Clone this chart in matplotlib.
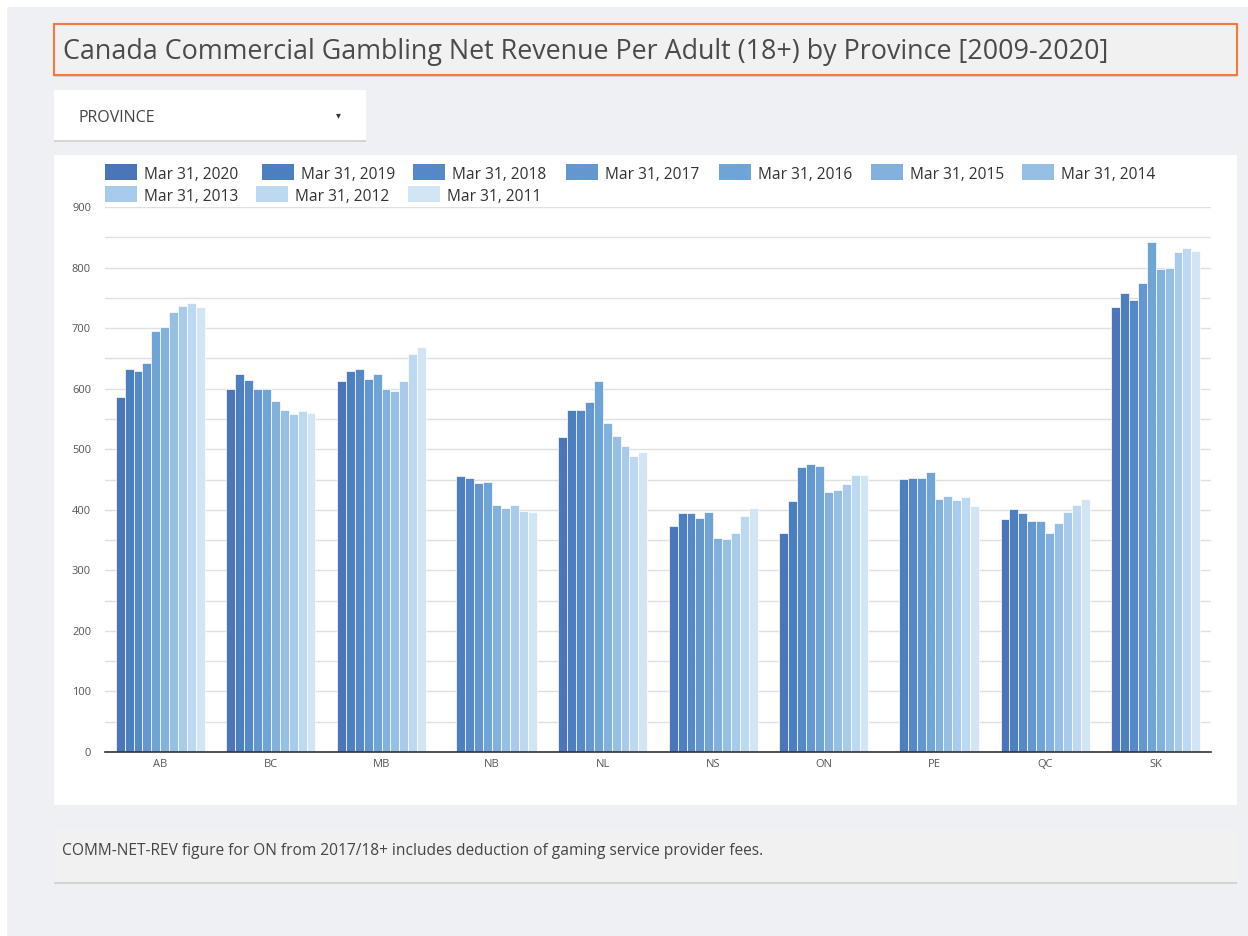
import numpy as np
import matplotlib
matplotlib.use("Agg")
import matplotlib.pyplot as plt
from matplotlib.patches import Rectangle

provinces = ["AB", "BC", "MB", "NB", "NL", "NS", "ON", "PE", "QC", "SK"]
periods = ["Mar 31, 2020", "Mar 31, 2019", "Mar 31, 2018", "Mar 31, 2017", "Mar 31, 2016",
           "Mar 31, 2015", "Mar 31, 2014", "Mar 31, 2013", "Mar 31, 2012", "Mar 31, 2011"]

# one list per period, values in province order
rev_2020 = [587, 600, 612, np.nan, 521, 373, 361, np.nan, 385, 735]
rev_2019 = [633, 624, 630, 456, 565, 395, 414, 451, 402, 758]
rev_2018 = [630, 614, 632, 452, 565, 394, 471, 453, 395, 746]
rev_2017 = [642, 600, 616, 445, 578, 386, 476, 453, 381, 775]
rev_2016 = [695, 600, 624, 446, 612, 396, 472, 463, 381, 842]
rev_2015 = [702, 580, 600, 408, 544, 353, 429, 417, 361, 797]
rev_2014 = [726, 564, 596, 403, 522, 352, 432, 423, 378, 799]
rev_2013 = [736, 558, 613, 408, 505, 362, 442, 416, 397, 825]
rev_2012 = [742, 563, 658, 398, 489, 389, 457, 421, 408, 833]
rev_2011 = [735, 560, 668, 397, 495, 403, 457, 407, 418, 827]
series = [rev_2020, rev_2019, rev_2018, rev_2017, rev_2016,
          rev_2015, rev_2014, rev_2013, rev_2012, rev_2011]

colors = ["#4a76b9", "#4c7fc0", "#5588c7", "#6497cf", "#6fa5d6",
          "#83b1de", "#96bfe4", "#a8cbeb", "#bcd9f1", "#d2e5f5"]

W, H = 1248, 936
FONT = "Open Sans"
fig = plt.figure(figsize=(W / 100, H / 100), dpi=100)
fig.patch.set_facecolor("white")


def box(x0, y0, x1, y1):
    # pixel box (top-left origin) -> figure fraction rect
    return [x0 / W, 1 - y1 / H, (x1 - x0) / W, (y1 - y0) / H]


def panel(x0, y0, x1, y1, face, edge=None, shadow=False, lw=1.0, z=-5):
    if shadow:
        l, b, w, h = box(x0, y0 + 2, x1, y1 + 2)
        fig.patches.append(Rectangle((l, b), w, h, transform=fig.transFigure,
                                     facecolor="#d3d4d7", edgecolor="none", zorder=z))
    l, b, w, h = box(x0, y0, x1, y1)
    fig.patches.append(Rectangle((l, b), w, h, transform=fig.transFigure,
                                 facecolor=face, edgecolor=edge if edge else "none",
                                 linewidth=lw, zorder=z))


# page background
panel(7, 7, 1248, 936, "#eef0f3", z=-10)
# title box
panel(54, 24, 1237, 75, "#f0f1f0", edge="#f47a3a", shadow=True, lw=1.5)
fig.text(63 / W, 1 - 49 / H, "Canada Commercial Gambling Net Revenue Per Adult (18+) by Province [2009-2020]",
         fontsize=19.4, color="#4a4a4a", family=FONT, va="center_baseline", ha="left")
# dropdown control
panel(54, 90, 366, 140, "white", shadow=True)
fig.text(79 / W, 1 - 116 / H, "PROVINCE", fontsize=11.5, color="#444444", family=FONT,
         va="center_baseline", ha="left")
fig.text(338 / W, 1 - 115 / H, "\u25be", fontsize=7, color="#333333", va="center", ha="center")
# chart panel
panel(54, 155, 1237, 805, "white")
# note box
panel(54, 829, 1237, 882, "#f0f1f0", shadow=True)
fig.text(62 / W, 1 - 849 / H,
         "COMM-NET-REV figure for ON from 2017/18+ includes deduction of gaming service provider fees.",
         fontsize=11.2, color="#444444", family=FONT, va="center_baseline", ha="left")

# legend, two rows like the dashboard
leg_x = [105, 262, 413, 566, 719, 871, 1022, 105, 256, 408]
leg_y = [172] * 7 + [194] * 3
for lab, col, lx, ly in zip(periods, colors, leg_x, leg_y):
    l, b, w, h = box(lx, ly - 8, lx + 32, ly + 8)
    fig.patches.append(Rectangle((l, b), w, h, transform=fig.transFigure,
                                 facecolor=col, edgecolor="none", zorder=2))
    fig.text((lx + 39) / W, 1 - (ly + 1) / H, lab, fontsize=11.2, color="#333333",
             family=FONT, va="center_baseline", ha="left")

# bars
ax = fig.add_axes(box(105, 207, 1211, 752))
ax.set_facecolor("none")
x = np.arange(len(provinces))
bw = 0.0805
for i, (vals, col) in enumerate(zip(series, colors)):
    ax.bar(x + (i - 4.5) * bw, vals, bw, color=col, edgecolor="white", linewidth=0.5, zorder=3)

ax.set_xlim(-0.5, len(provinces) - 0.5)
ax.set_ylim(0, 900)
ax.set_yticks(np.arange(0, 901, 100))
ax.set_yticks(np.arange(50, 900, 100), minor=True)
ax.grid(axis="y", which="both", color="#e0e0e0", linewidth=1, zorder=0)
ax.set_xticks(x)
ax.set_xticklabels(provinces)
for sp in ["top", "right", "left"]:
    ax.spines[sp].set_visible(False)
ax.spines["bottom"].set_color("#333333")
ax.spines["bottom"].set_linewidth(1.2)
ax.spines["bottom"].set_zorder(4)
ax.tick_params(axis="both", which="both", length=0, labelsize=8, labelcolor="#555555")
ax.tick_params(axis="y", pad=10)
ax.tick_params(axis="x", pad=5)
for t in ax.get_xticklabels() + ax.get_yticklabels():
    t.set_family(FONT)

fig.savefig("out.png", dpi=100, facecolor=fig.get_facecolor())
